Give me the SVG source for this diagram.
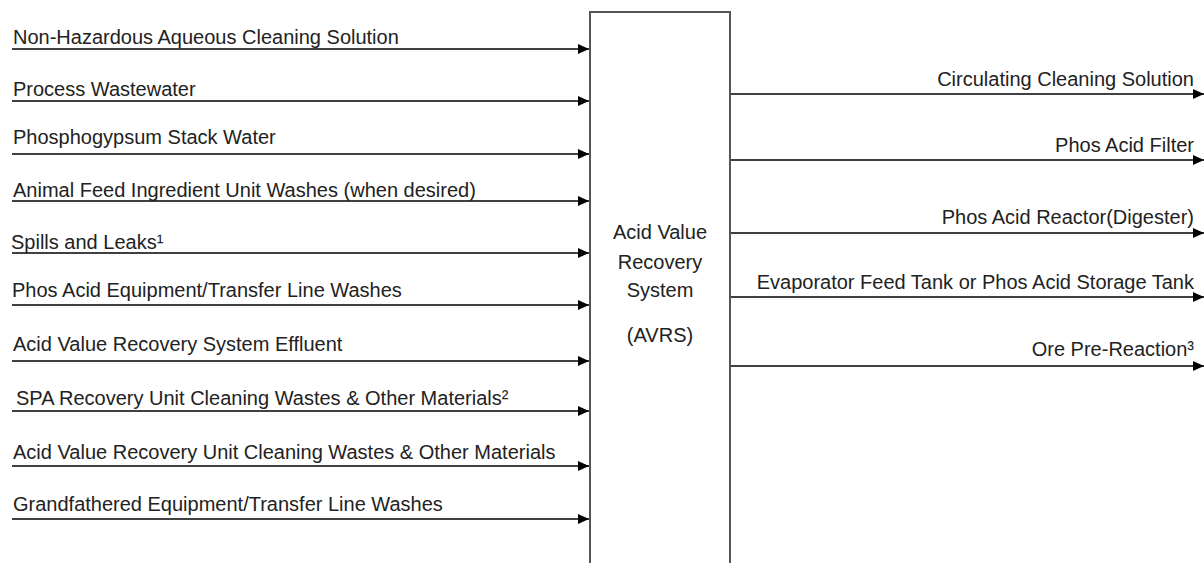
<svg xmlns="http://www.w3.org/2000/svg" width="1204" height="563" viewBox="0 0 1204 563">
<style>
.t{font-family:"Liberation Sans",Arial,sans-serif;font-size:20px;fill:#222}
.r{text-anchor:end}
.c{text-anchor:middle}
.ln{stroke:#000;stroke-width:1.5;fill:none;marker-end:url(#ah)}
.box{fill:#fff;stroke:#555;stroke-width:2}
</style>
<defs>
<marker id="ah" markerUnits="userSpaceOnUse" markerWidth="12" markerHeight="11" refX="11" refY="5" orient="auto">
<path d="M0,0 L11,5 L0,10 z" fill="#000"/>
</marker>
</defs>
<rect width="1204" height="563" fill="#fff"/>
<g id="avrs">
<rect class="box" x="590" y="12" width="140" height="560"/>
<text class="t c" x="660" y="239">Acid Value</text>
<text class="t c" x="660" y="269">Recovery</text>
<text class="t c" x="660" y="297">System</text>
<text class="t c" x="660" y="342">(AVRS)</text>
</g>
<g id="connectors">
<line class="ln" x1="12" y1="49" x2="589" y2="49"/>
<line class="ln" x1="12" y1="101" x2="589" y2="101"/>
<line class="ln" x1="12" y1="154" x2="589" y2="154"/>
<line class="ln" x1="12" y1="201" x2="589" y2="201"/>
<line class="ln" x1="12" y1="253" x2="589" y2="253"/>
<line class="ln" x1="12" y1="305" x2="589" y2="305"/>
<line class="ln" x1="12" y1="361" x2="589" y2="361"/>
<line class="ln" x1="12" y1="411" x2="589" y2="411"/>
<line class="ln" x1="12" y1="466" x2="589" y2="466"/>
<line class="ln" x1="12" y1="519" x2="589" y2="519"/>
<line class="ln" x1="731" y1="94" x2="1204" y2="94"/>
<line class="ln" x1="731" y1="160" x2="1204" y2="160"/>
<line class="ln" x1="731" y1="233" x2="1204" y2="233"/>
<line class="ln" x1="731" y1="297" x2="1204" y2="297"/>
<line class="ln" x1="731" y1="366" x2="1204" y2="366"/>
</g>
<g id="inputs">
<text id="in1" class="t" x="13" y="44">Non-Hazardous Aqueous  Cleaning Solution</text>
<text id="in2" class="t" x="13" y="96">Process Wastewater</text>
<text id="in3" class="t" x="13" y="144">Phosphogypsum Stack Water</text>
<text id="in4" class="t" x="13" y="197">Animal Feed Ingredient Unit Washes (when desired)</text>
<text id="in5" class="t" x="11" y="249">Spills and Leaks¹</text>
<text id="in6" class="t" x="12" y="297">Phos Acid Equipment/Transfer Line Washes</text>
<text id="in7" class="t" x="13" y="351">Acid Value Recovery System Effluent</text>
<text id="in8" class="t" x="16" y="405">SPA Recovery Unit Cleaning Wastes &amp; Other Materials²</text>
<text id="in9" class="t" x="13" y="459">Acid Value Recovery Unit Cleaning Wastes &amp; Other Materials</text>
<text id="in10" class="t" x="13" y="511">Grandfathered Equipment/Transfer Line Washes</text>
</g>
<g id="outputs">
<text id="out1" class="t r" x="1194" y="86">Circulating Cleaning Solution</text>
<text id="out2" class="t r" x="1194" y="152">Phos Acid Filter</text>
<text id="out3" class="t r" x="1194" y="224">Phos Acid Reactor(Digester)</text>
<text id="out4" class="t r" x="1194" y="289">Evaporator Feed Tank or Phos Acid Storage Tank</text>
<text id="out5" class="t r" x="1194" y="356">Ore Pre-Reaction³</text>
</g>
</svg>
